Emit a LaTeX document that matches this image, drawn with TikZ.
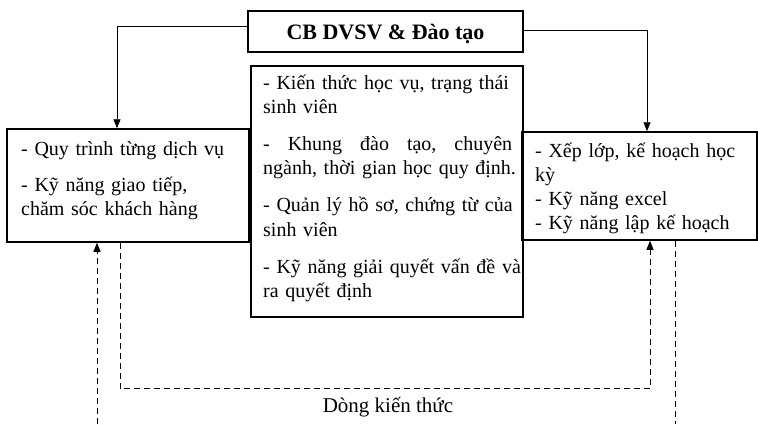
\documentclass[tikz,border=0pt]{standalone}
\usepackage{fontspec}
\setmainfont{Liberation Serif}
\usetikzlibrary{arrows.meta}
\begin{document}
\begin{tikzpicture}[x=1pt,y=-1pt,
  box/.style={draw, line width=1.5pt, inner sep=0, rectangle},
  txt/.style={inner sep=0, anchor=base west, font=\fontsize{20}{24.2}\selectfont, align=left},
  conn/.style={line width=0.8pt},
  tip/.style={-{Triangle[length=9pt,width=7pt]}},
  dsh/.style={conn, dash pattern=on 6pt off 4pt}]
\useasboundingbox (0,0) rectangle (758,424);
% boxes
\node[box, minimum width=275pt, minimum height=41pt] (top) at (385.5,31.5) {};
\node[box, minimum width=242pt, minimum height=113pt] (left) at (128,185.5) {};
\node[box, minimum width=272pt, minimum height=251pt] (mid) at (387,191.5) {};
\node[box, minimum width=235pt, minimum height=108pt] (right) at (639.5,186) {};
% texts
\node[inner sep=0, anchor=base, font=\fontsize{22}{24.2}\selectfont\bfseries] (ttl) at (385.5,39) {CB DVSV \& Đào tạo};
\node[txt, text width=225pt] (tl) at (21,155) {- Quy trình từng dịch vụ\\[11.8pt]- Kỹ năng giao tiếp,\\chăm sóc khách hàng};
\node[txt, text width=300pt] (tm) at (263,89) {- Kiến thức học vụ, trạng thái\\sinh viên\\[13pt]\leavevmode\hbox to 249pt{-\hfill Khung\hfill đào\hfill tạo,\hfill chuyên}\\ngành, thời gian học quy định.\\[13pt]- Quản lý hồ sơ, chứng từ của\\sinh viên\\[13pt]- Kỹ năng giải quyết vấn đề và\\ra quyết định};
\node[txt, text width=215pt] (tr) at (535,157) {- Xếp lớp, kế hoạch học\\kỳ\\- Kỹ năng excel\\- Kỹ năng lập kế hoạch};
\node[inner sep=0, anchor=base, font=\fontsize{21}{24.2}\selectfont] (lbl) at (388,412) {Dòng kiến thức};
% solid connectors
\draw[conn, tip] ([yshift=5.5pt]top.west) -| ([xshift=-11pt]left.north);
\draw[conn, tip] ([yshift=1.5pt]top.east) -| ([xshift=7.5pt]right.north);
% dashed connectors
\coordinate (lb) at (97,424);
\coordinate (rb) at (675,424);
\draw[dsh, tip] (lb) -- (left.south -| lb);
\draw[dsh, tip] ([xshift=-8pt]left.south) -- ++(0,146) -| ([xshift=10.5pt]right.south);
\draw[dsh] (right.south -| rb) -- (rb);
\end{tikzpicture}
\end{document}
